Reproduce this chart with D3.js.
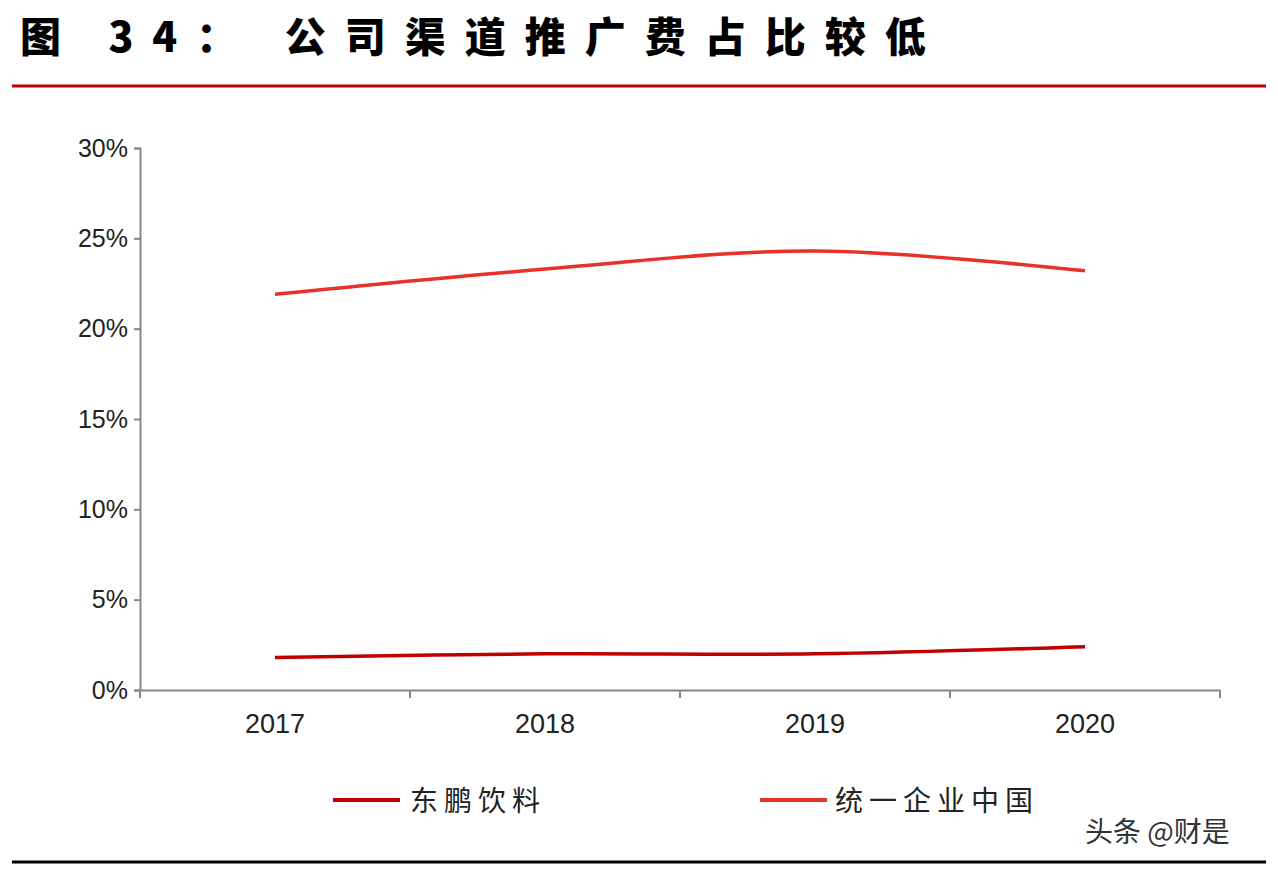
<!DOCTYPE html>
<html><head><meta charset="utf-8">
<script src="https://cdn.jsdelivr.net/npm/d3@7/dist/d3.min.js"></script>
<style>body{margin:0;background:#fff}</style></head>
<body><svg id="c" width="1278" height="874"></svg>
<script>
const categories=["2017","2018","2019","2020"];
const dongpeng=[1.8,2.0,2.0,2.4];
const tongyi=[21.9,23.3,24.3,23.2];
const yTicks=[0,5,10,15,20,25,30];
const seriesNames=["东鹏饮料","统一企业中国"];
const colors=["#c00000","#e8312a"];

const svg=d3.select("#c");
const font="'Noto Sans CJK SC', sans-serif";
svg.append("text").attr("x",20).attr("y",52).attr("font-family",font).attr("font-weight","900")
 .attr("font-size",41).attr("letter-spacing",19).attr("fill","#000").text("图 34： 公司渠道推广费占比较低");
svg.append("line").attr("x1",12).attr("x2",1266).attr("y1",86).attr("y2",86).attr("stroke","#c00000").attr("stroke-width",3);
svg.append("line").attr("x1",12).attr("x2",1266).attr("y1",862).attr("y2",862).attr("stroke","#000").attr("stroke-width",3);

const x=d3.scaleBand().domain(categories).range([140,1220]);
const y=d3.scaleLinear().domain([0,30]).range([690,148]);
const gx=svg.append("g").attr("transform","translate(0,690)")
 .call(d3.axisBottom(x).tickSize(0).tickPadding(24));
gx.selectAll("text").attr("font-family","'Liberation Sans', Arial").attr("font-size",27).attr("fill","#222");
gx.select(".domain").attr("stroke","#888").attr("stroke-width",2);
[140,410,680,950,1220].forEach(v=>svg.append("line").attr("x1",v).attr("x2",v).attr("y1",690).attr("y2",698).attr("stroke","#888").attr("stroke-width",2));
const gy=svg.append("g").attr("transform","translate(140,0)")
 .call(d3.axisLeft(y).tickValues(yTicks).tickFormat(d=>d+"%").tickSize(6).tickPadding(6));
gy.selectAll("text").attr("font-family","'Liberation Sans', Arial").attr("font-size",25).attr("fill","#222");
gy.selectAll("line,path").attr("stroke","#888").attr("stroke-width",2);

const line=d3.line().x((d,i)=>x(categories[i])+x.bandwidth()/2).y(d=>y(d)).curve(d3.curveCatmullRom.alpha(0.5));
[dongpeng,tongyi].forEach((s,i)=>svg.append("path").attr("d",line(s)).attr("fill","none").attr("stroke",colors[i]).attr("stroke-width",3.5));

const lg=[[333,410],[760,835]];
seriesNames.forEach((n,i)=>{
 svg.append("line").attr("x1",lg[i][0]).attr("x2",lg[i][0]+67).attr("y1",800).attr("y2",800).attr("stroke",colors[i]).attr("stroke-width",4);
 svg.append("text").attr("x",lg[i][1]).attr("y",811).attr("font-family",font).attr("font-size",28).attr("letter-spacing",6).attr("fill","#222").text(n);
});
svg.append("text").attr("x",1085).attr("y",842).attr("font-family",font).attr("font-size",28).attr("fill","#333").text("头条 @财是");
</script></body></html>
